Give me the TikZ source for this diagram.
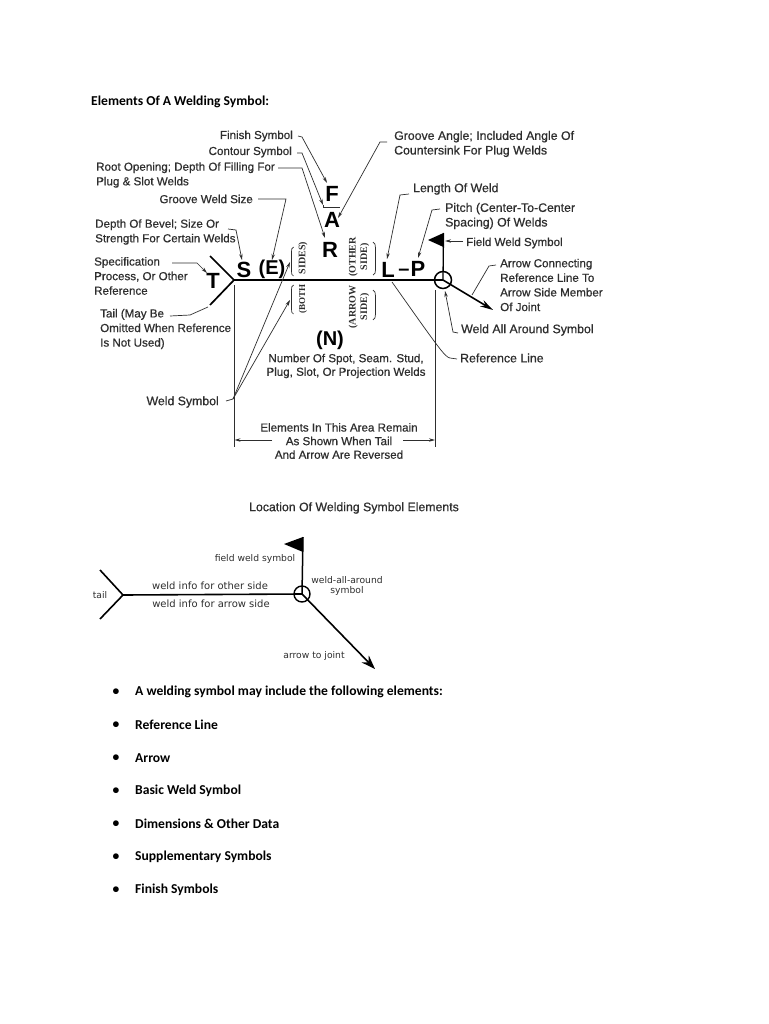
\documentclass[tikz,border=0pt]{standalone}
\usepackage{fontspec}
\setmainfont{Liberation Sans}
\newfontfamily\labf[FakeBold=0.6]{Liberation Sans}
\newfontfamily\carl{Carlito}
\newfontfamily\serf{Liberation Serif}
\newfontfamily\djv{DejaVu Sans}
\usetikzlibrary{arrows.meta}
\definecolor{ink}{HTML}{2E2E2E}
\tikzset{
  lab/.style={inner sep=0pt,text=ink,font=\labf\fontsize{11.6}{14.6}\selectfont,align=left},
  labw/.style={inner sep=0pt,text=ink,font=\labf\fontsize{12.3}{14.6}\selectfont,align=left},
  labc/.style={inner sep=0pt,text=ink,font=\labf\fontsize{11.6}{13.6}\selectfont,align=center},
  big/.style={inner sep=1pt,text=black,font=\bfseries\fontsize{22}{22}\selectfont},
  bigp/.style={inner sep=1pt,text=black,font=\bfseries\fontsize{20}{20}\selectfont},
  rot/.style={inner sep=0pt,rotate=90,text=ink,align=center,font=\serf\bfseries\fontsize{10}{11.5}\selectfont},
  rots/.style={inner sep=0pt,rotate=90,text=ink,align=center,font=\serf\bfseries\fontsize{9}{11.5}\selectfont},
  leader/.style={draw=ink,line width=0.7pt,-{Stealth[length=6pt,width=3.4pt]}},
  plain/.style={draw=ink,line width=0.7pt},
  thick line/.style={draw=black,line width=1.7pt},
  bmp/.style={inner sep=0pt,text=ink,font=\djv\fontsize{9.2}{10}\selectfont,align=center},
  bmpw/.style={inner sep=0pt,text=ink,font=\djv\fontsize{10}{10}\selectfont,align=center},
  head/.style={inner sep=0pt,anchor=west,text=black,font=\carl\bfseries\fontsize{13.6}{15}\selectfont},
  bul/.style={inner sep=0pt,text=black,font=\carl\bfseries\fontsize{13.6}{15}\selectfont},
}
\begin{document}
\begin{tikzpicture}[x=1pt,y=-1pt]
\useasboundingbox (0,0) rectangle (768,1024);
\fill[white] (0,0) rectangle (768,1024);
\node[head] (title) at (91,102) {Elements Of A Welding Symbol:};

% junctions
\coordinate (J) at (234,280);
\node[draw=black,line width=1.5pt,circle,minimum size=17pt,inner sep=0pt] (circ) at (443,280) {};
\coordinate (tl) at (210,256);
\coordinate (tb) at (210,305);
\draw[thick line] (J) -- (circ.center);
\draw[thick line] (tl) -- (J) -- (tb);
\coordinate (wl1) at (234.5,285); \coordinate (wl2) at (234.5,447);
\coordinate (wr1) at (435,290); \coordinate (wr2) at (435,447);
\draw[plain] (wl1) -- (wl2);
\draw[plain] (wr1) -- (wr2);

% letters
\node[big] (F) at (332,194) {F};
\node[big] (A) at (332,220) {A};
\node[big] (R) at (330,250) {R};
\node[big] (S) at (244,270) {S};
\node[bigp] (E) at (272,269) {(E)};
\node[big] (T) at (213,281) {T};
\node[big] (L) at (388,270) {L};
\node[bigp] (dash) at (404,272) {–};
\node[big] (P) at (418,269) {P};
\node[bigp] (N) at (330,340) {(N)};
\coordinate (o1) at (323,207); \coordinate (o2) at (340,207);
\draw[plain] (o1) -- (o2);

% labels
\node[lab,anchor=east] (finish) at (293,136) {Finish Symbol};
\node[lab,anchor=east] (contour) at (292,152) {Contour Symbol};
\node[lab,anchor=west] (root) at (96,175) {Root Opening; Depth Of Filling For\\Plug \& Slot Welds};
\node[lab,anchor=east] (gws) at (253,199) {Groove Weld Size};
\node[lab,anchor=west] (depth) at (95,232) {Depth Of Bevel; Size Or\\Strength For Certain Welds};
\node[lab,anchor=west] (spec) at (94,276) {Specification\\Process, Or Other\\Reference};
\node[lab,anchor=west] (tail) at (100,329) {Tail (May Be\\Omitted When Reference\\Is Not Used)};
\node[labw,anchor=west] (angle) at (394,144) {Groove Angle; Included Angle Of\\Countersink For Plug Welds};
\node[labw,anchor=west] (len) at (413,189) {Length Of Weld};
\node[labw,anchor=west] (pitch) at (445,216) {Pitch (Center-To-Center\\Spacing) Of Welds};
\node[lab,anchor=west] (fws) at (466,243) {Field Weld Symbol};
\node[lab,anchor=west] (acon) at (500,285) {Arrow Connecting\\Reference Line To\\Arrow Side Member\\Of Joint};
\node[labw,anchor=west] (waa) at (461,330) {Weld All Around Symbol};
\node[labw,anchor=west] (refl) at (460,358) {Reference Line};
\node[labc] (num) at (346,366) {Number Of Spot, Seam. Stud,\\Plug, Slot, Or Projection Welds};
\node[labw,anchor=east] (wsym) at (219,402) {Weld Symbol};
\node[labc] (remain) at (339,441) {Elements In This Area Remain\\As Shown When Tail\\And Arrow Are Reversed};
\node[labw,align=center] (loc) at (354,508) {Location Of Welding Symbol Elements};

% rotated
\node[rot] (sides) at (303,258) {SIDES)};
\node[rots] (both) at (303,299) {(BOTH};
\node[rot] (other) at (359,257) {(OTHER\\SIDE)};
\node[rot] (arrowside) at (359,307) {(ARROW\\SIDE)};

% brackets
\draw[plain] (293.5,247) .. controls (291.5,248) and (291.5,249) .. (291.5,252) -- (291.5,271) .. controls (291.5,274) and (291.5,275) .. (293.5,276);
\draw[plain] (293.5,285) .. controls (291.5,286) and (291.5,287) .. (291.5,290) -- (291.5,309) .. controls (291.5,312) and (291.5,313) .. (293.5,314);
\draw[plain] (373,242) .. controls (375,243) and (375.5,245) .. (375.5,248) -- (375.5,270) .. controls (375.5,273) and (375,274) .. (373,275);
\draw[plain] (373,290) .. controls (375,291) and (375.5,293) .. (375.5,296) -- (375.5,314) .. controls (375.5,317) and (375,319) .. (373,320);

% leaders
\coordinate (tF) at (327,183);
\coordinate (tC) at (323,205);
\coordinate (tR) at (325,238);
\coordinate (tE) at (272,260);
\coordinate (tS) at (242,260);
\coordinate (tT) at (207,273);
\coordinate (tA) at (338,218);
\coordinate (tL) at (387,259);
\coordinate (tP) at (418,258);
\coordinate (tFlag) at (445,241);
\coordinate (tAr) at (472,295);
\coordinate (tW) at (445,291);
\coordinate (tRef) at (392,282);
\coordinate (tB1) at (290,262);
\coordinate (tB2) at (290,300);
\draw[leader] (298,136) -- (302,137) -- (tF);
\draw[leader] (297,153) -- (302,153) -- (tC);
\draw[plain] (tC) -- (o1);
\draw[leader] (278,168) -- (302,168) -- (tR);
\draw[leader] (258,199) -- (286,199) -- (tE);
\draw[leader] (228,229) -- (236,230) -- (tS);
\draw[leader] (172,263) -- (197,263) -- (tT);
\draw[leader] (387,142) -- (380,142) -- (tA);
\draw[leader] (409,194) -- (400,195) -- (tL);
\draw[leader] (440,209) -- (432,210) -- (tP);
\draw[leader] (463,241) -- (tFlag);
\draw[plain] (496,265) -- (489,266) -- (tAr);
\draw[leader] (458,333) -- (453,332) -- (tW);
\draw[plain] (457,359) -- (450,358) .. controls (445,357) and (440,350) .. (tRef);
\draw[plain] (170,316) -- (190,315) -- (208,307);
\coordinate (ws) at (233,399);
\draw[plain] (226,401) -- (ws);
\draw[leader] (ws) -- (tB1);
\draw[leader] (ws) -- (tB2);

% dimension
\coordinate (d1) at (272,440); \coordinate (d2) at (403,440);
\coordinate (dl) at (234.5,440); \coordinate (dr) at (435,440);
\draw[leader] (d1) -- (dl);
\draw[leader] (d2) -- (dr);

% flag and arrow
\coordinate (fa) at (428,240); \coordinate (ft) at (443.5,233); \coordinate (fb) at (443.5,247);
\fill[black] (fa) -- (ft) -- (fb) -- cycle;
\draw[line width=1.3pt,black] (ft) -- (circ.center);
\coordinate (atip) at (493,310);
\draw[line width=1.6pt,black,-{Stealth[length=13pt,width=7pt]}] (circ.center) -- (atip);

% lower diagram
\node[draw=black,line width=1.4pt,circle,minimum size=16pt,inner sep=0pt] (c2) at (302,594) {};
\coordinate (a1) at (100,570); \coordinate (a2) at (123,595); \coordinate (a3) at (100,619);
\draw[line width=1.6pt,black] (a1) -- (a2) -- (a3);
\draw[line width=1.6pt,black] (a2) -- (c2.center);
\coordinate (gt) at (303,537); \coordinate (gb) at (303,552); \coordinate (ga) at (284,544);
\fill[black] (ga) -- (gt) -- (gb) -- cycle;
\draw[line width=1.5pt,black] (gt) -- (c2.center);
\coordinate (btip) at (375,669);
\draw[line width=1.6pt,black,-{Stealth[length=14pt,width=10pt]}] (c2.center) -- (btip);
\node[bmp] (b1) at (255,559) {field weld symbol};
\node[bmpw] (b2) at (210,586) {weld info for other side};
\node[bmpw] (b3) at (211,604) {weld info for arrow side};
\node[bmp] (b4) at (100,595) {tail};
\node[bmp] (b5) at (347,585.5) {weld-all-around\\symbol};
\node[bmp] (b6) at (314,656) {arrow to joint};

% bullets
\foreach \nm/\yy/\tx in {i1/692/A welding symbol may include the following elements:,
 i2/725/Reference Line, i3/758/Arrow, i4/791/Basic Weld Symbol,
 i5/824/Dimensions \& Other Data, i6/857/Supplementary Symbols, i7/890/Finish Symbols}{
  \node[bul,anchor=center] (d\nm) at (116,\yy) {•};
  \node[bul,anchor=west] (\nm) at (135,\yy) {\tx};
}
\end{tikzpicture}
\end{document}
